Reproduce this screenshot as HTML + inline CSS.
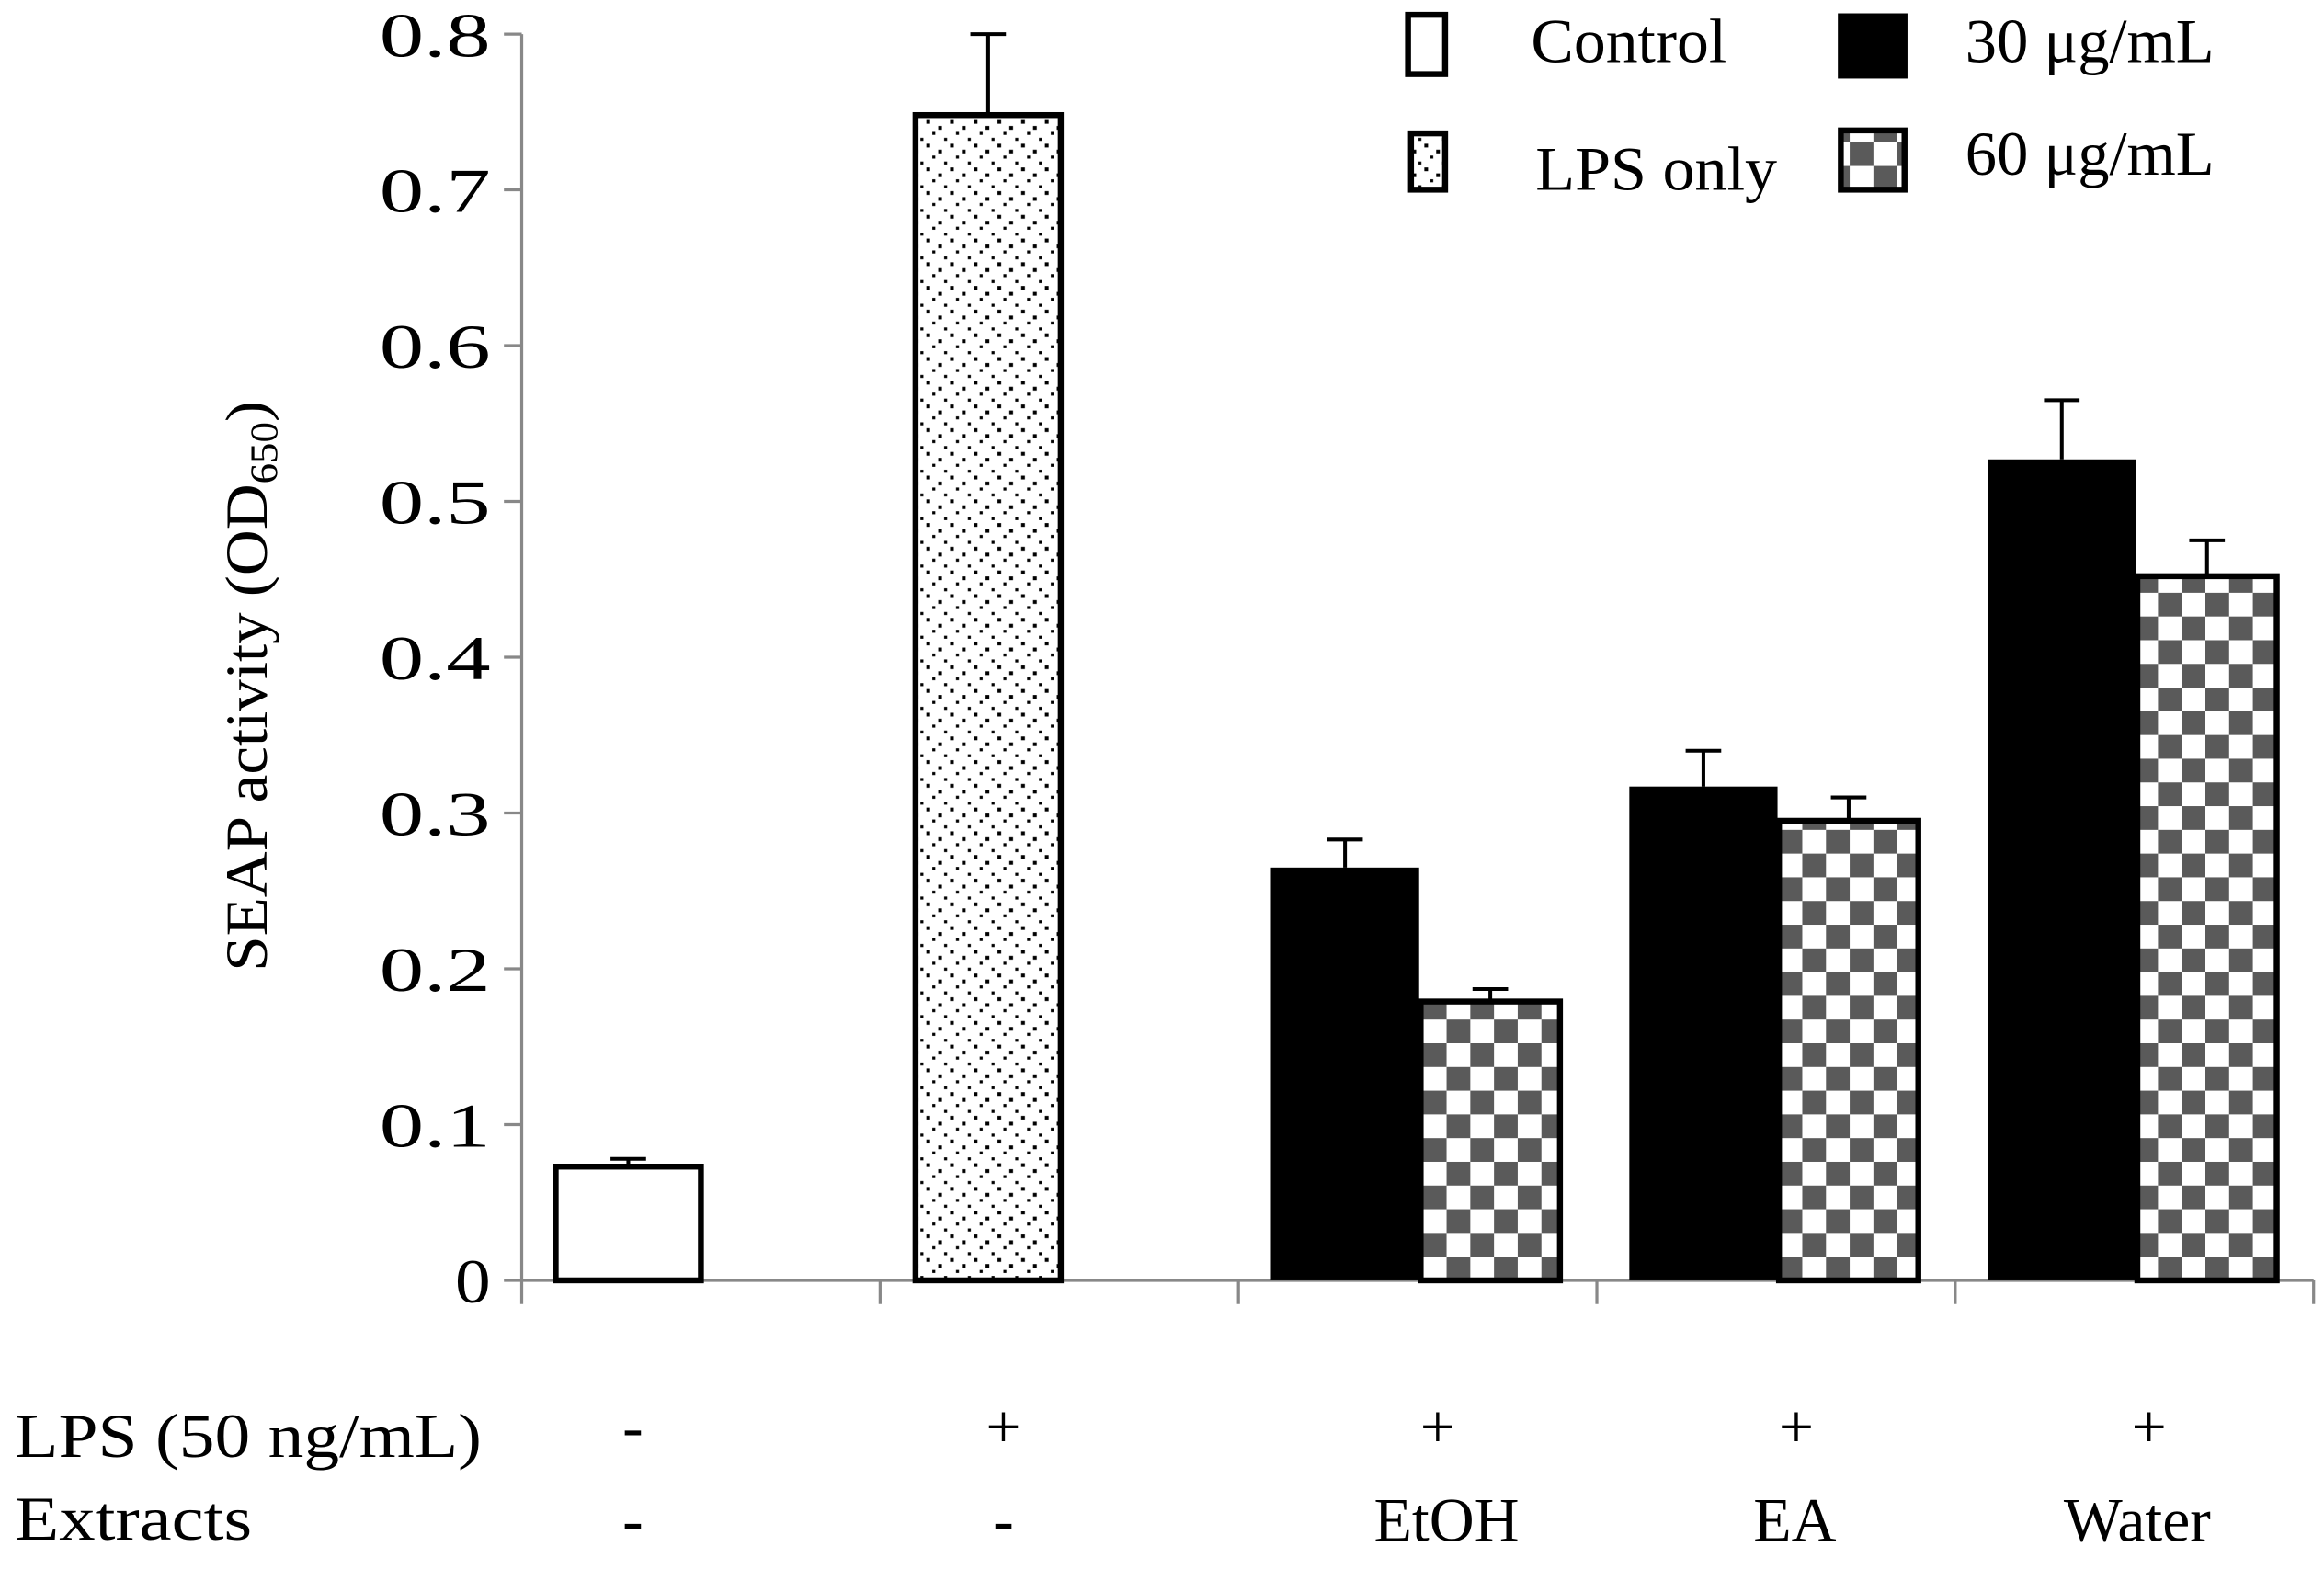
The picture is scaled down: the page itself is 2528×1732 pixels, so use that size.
<!DOCTYPE html>
<html><head><meta charset="utf-8"><style>
html,body{margin:0;padding:0;background:#fff}
svg{display:block}
text{font-family:"Liberation Serif",serif;fill:#000}
</style></head><body>
<svg id="chart" width="2528" height="1732" viewBox="0 0 1568 1074.3" xmlns="http://www.w3.org/2000/svg">
<defs>
<pattern id="dots" width="16" height="16" patternUnits="userSpaceOnUse">
<rect width="16" height="16" fill="#fff"/>
<rect x="1" y="1" width="2.5" height="2.5" fill="#000"/><rect x="9" y="5" width="2.5" height="2.5" fill="#000"/>
<rect x="5" y="9" width="2" height="2" fill="#000"/><rect x="13" y="13" width="2" height="2" fill="#000"/>
</pattern>
<pattern id="checks" width="32" height="32" patternUnits="userSpaceOnUse">
<rect width="32" height="32" fill="#fff"/>
<rect width="16" height="16" fill="#5a5a5a"/><rect x="16" y="16" width="16" height="16" fill="#5a5a5a"/>
</pattern>
</defs>
<g id="plot"></g>
<text transform="translate(180,463) rotate(-90)" text-anchor="middle" font-size="40" textLength="385" lengthAdjust="spacingAndGlyphs">SEAP activity (OD<tspan font-size="26" dy="7">650</tspan><tspan dy="-7">)</tspan></text>
<g font-size="42">
<rect x="950" y="10" width="25" height="40" fill="#fff" stroke="#000" stroke-width="4"/>
<text x="1033" y="42" textLength="132" lengthAdjust="spacingAndGlyphs">Control</text>
<rect x="952" y="90" width="23" height="38" fill="url(#dots)" stroke="#000" stroke-width="4"/>
<text x="1036" y="128" textLength="163" lengthAdjust="spacingAndGlyphs">LPS only</text>
<rect x="1240" y="9" width="47" height="44" fill="#000"/>
<text x="1326" y="42" textLength="168" lengthAdjust="spacingAndGlyphs">30 μg/mL</text>
<rect x="1242" y="88" width="43" height="40" fill="url(#checks)" stroke="#000" stroke-width="4"/>
<text x="1326" y="118" textLength="168" lengthAdjust="spacingAndGlyphs">60 μg/mL</text>
</g>
<g font-size="42">
<text x="10" y="983" textLength="315" lengthAdjust="spacingAndGlyphs">LPS (50 ng/mL)</text>
<text x="10" y="1039" textLength="160" lengthAdjust="spacingAndGlyphs">Extracts</text>
</g>
</svg>
<script>
const categories = ["Control","LPS only","EtOH","EA","Water"];
const lpsRow = ["-","+","+","+","+"];
const extractRow = ["-","-","EtOH","EA","Water"];
const singleValues = [0.073, 0.748];
const singleErr = [0.005, 0.052];
const val30 = [0.265, 0.317, 0.527];
const err30 = [0.018, 0.023, 0.038];
const val60 = [0.179, 0.295, 0.452];
const err60 = [0.008, 0.015, 0.023];
const yTicks = [0,0.1,0.2,0.3,0.4,0.5,0.6,0.7,0.8];
const yTickLabels = ["0","0.1","0.2","0.3","0.4","0.5","0.6","0.7","0.8"];

const NS="http://www.w3.org/2000/svg";
const plot=document.getElementById('plot');
const X0=352, X1=1561, Y0=864, Y8=23;
const y=v=>Y0-(v/0.8)*(Y0-Y8);
const catW=(X1-X0)/categories.length;
const cx=i=>X0+catW*(i+0.5);
function mk(tag,attrs){const e=document.createElementNS(NS,tag);for(const k in attrs)e.setAttribute(k,attrs[k]);plot.appendChild(e);return e;}

let ax=mk('line',{x1:X0,y1:Y8,x2:X0,y2:Y0,stroke:'#888','stroke-width':2});


let xa=mk('line',{x1:X0,y1:Y0,x2:X1,y2:Y0,stroke:'#888','stroke-width':2});


yTicks.forEach((t,i)=>{
  let tk=mk('line',{x1:X0-12,y1:y(t),x2:X0,y2:y(t),stroke:'#888','stroke-width':2});
  
  
  const lab=yTickLabels[i];
  const w=lab.length>1?75:24;
  let tl=mk('text',{x:331,y:y(t)+15,'text-anchor':'end','font-size':42,textLength:w,lengthAdjust:'spacingAndGlyphs'});
  tl.textContent=lab;
  
  
});
for(let i=0;i<=categories.length;i++){
  let tk=mk('line',{x1:X0+catW*i,y1:Y0,x2:X0+catW*i,y2:Y0+16,stroke:'#888','stroke-width':2});
  
  
}
function bar(x,w,v,e,fill,name,stroke){
  let r=mk('rect',{x:x,y:y(v),width:w,height:Y0-y(v),fill:fill,stroke:stroke?'#000':'none','stroke-width':4});
  
  
  let mx=x+w/2;
  let el=mk('path',{d:`M${mx},${y(v)} V${y(v+e)} M${mx-12},${y(v+e)} H${mx+12}`,stroke:'#000','stroke-width':2.5,fill:'none'});
  
  
}
const bw=98;
bar(cx(0)-49-bw/2,bw,singleValues[0],singleErr[0],'#fff','bar-control',true);
bar(cx(1)-49-bw/2+1,bw,singleValues[1],singleErr[1],'url(#dots)','bar-lps-only',true);
for(let j=0;j<3;j++){
  const c=cx(j+2);
  bar(c-bw-1,bw+2,val30[j],err30[j],'#000','bar-30-'+categories[j+2].toLowerCase(),false);
  bar(c+2,bw-4,val60[j],err60[j],'url(#checks)','bar-60-'+categories[j+2].toLowerCase(),true);
}
const signX=[427,677,970,1212,1450];
lpsRow.forEach((s,i)=>{
  let t=mk('text',{x:signX[i],y:977,'text-anchor':'middle','font-size':42});
  t.textContent=s;
  
  
});
const extX=[427,677,976,1211,1442];
extractRow.forEach((s,i)=>{
  let t=mk('text',{x:extX[i],y:1040,'text-anchor':'middle','font-size':42});
  t.textContent=s;
  
  
});
</script>
</body></html>
